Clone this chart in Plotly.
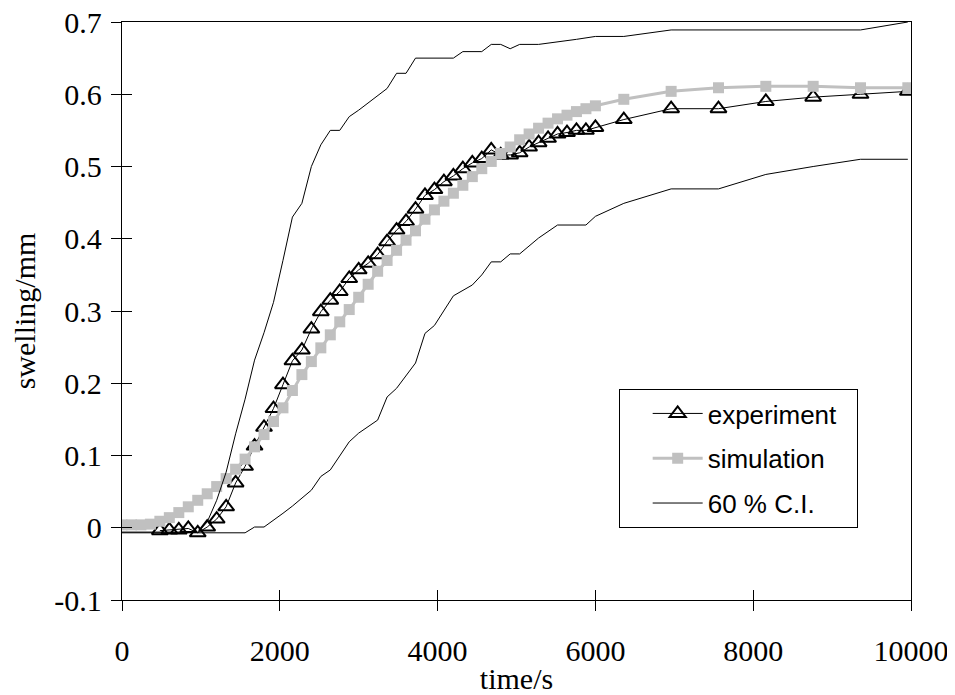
import plotly.graph_objects as go

# ---------------- data ----------------
exp_time = [480, 600, 720, 840, 960, 1080, 1200, 1320, 1440, 1560,
            1680, 1800, 1920, 2040, 2160, 2280, 2400, 2520, 2640, 2760,
            2880, 3000, 3120, 3240, 3360, 3480, 3600, 3720, 3840, 3960,
            4080, 4200, 4320, 4440, 4560, 4680, 4800, 4920, 5040, 5160,
            5280, 5400, 5520, 5640, 5760, 5880, 6000,
            6360, 6960, 7560, 8160, 8760, 9360, 9960]
exp_swell = [-0.004, -0.003, -0.003, -0.001, -0.007, 0.001, 0.012, 0.029, 0.062, 0.085,
             0.113, 0.139, 0.165, 0.198, 0.231, 0.246, 0.275, 0.299, 0.315, 0.327,
             0.345, 0.357, 0.366, 0.378, 0.396, 0.412, 0.424, 0.441, 0.460, 0.468,
             0.479, 0.487, 0.497, 0.505, 0.511, 0.523, 0.516, 0.516, 0.519, 0.527,
             0.533, 0.539, 0.545, 0.547, 0.550, 0.550, 0.554,
             0.565, 0.580, 0.580, 0.590, 0.596, 0.600, 0.604]

sim_time = [0, 120, 240, 360, 480, 600, 720, 840, 960, 1080,
            1200, 1320, 1440, 1560, 1680, 1800, 1920, 2040, 2160, 2280,
            2400, 2520, 2640, 2760, 2880, 3000, 3120, 3240, 3360, 3480,
            3600, 3720, 3840, 3960, 4080, 4200, 4320, 4440, 4560, 4680,
            4800, 4920, 5040, 5160, 5280, 5400, 5520, 5640, 5760, 5880, 6000,
            6360, 6960, 7560, 8160, 8760, 9360, 9960]
sim_swell = [0.004, 0.004, 0.004, 0.005, 0.009, 0.014, 0.021, 0.029, 0.038, 0.047,
             0.057, 0.068, 0.081, 0.095, 0.112, 0.129, 0.147, 0.166, 0.190, 0.212,
             0.230, 0.249, 0.267, 0.285, 0.302, 0.319, 0.337, 0.355, 0.370, 0.384,
             0.398, 0.411, 0.427, 0.440, 0.452, 0.463, 0.474, 0.486, 0.497, 0.507,
             0.518, 0.527, 0.537, 0.545, 0.553, 0.560, 0.566, 0.571, 0.576, 0.580, 0.584,
             0.593, 0.604, 0.609, 0.611, 0.611, 0.609, 0.609]

ci_up_time = [0, 960, 1080, 1200, 1320, 1440, 1560, 1680, 1800, 1920,
              2040, 2160, 2280, 2400, 2520, 2640, 2760, 2880, 3000, 3360,
              3480, 3600, 3720, 4200, 4320, 4560, 4680, 4800, 4920, 5040,
              5280, 5520, 5760, 6000, 6360, 6960, 8160, 9360, 9960]
ci_up_swell = [-0.006, -0.006, 0.008, 0.038, 0.077, 0.130, 0.178, 0.232, 0.270, 0.312,
               0.370, 0.430, 0.449, 0.500, 0.530, 0.550, 0.550, 0.569, 0.578, 0.608,
               0.629, 0.629, 0.650, 0.650, 0.659, 0.659, 0.669, 0.669, 0.663, 0.669,
               0.669, 0.672, 0.676, 0.680, 0.680, 0.689, 0.689, 0.689, 0.700]

ci_lo_time = [0, 1560, 1680, 1800, 2040, 2160, 2400, 2520, 2640, 2880,
              3000, 3240, 3360, 3480, 3720, 3840, 3960, 4200, 4440, 4560,
              4680, 4800, 4920, 5040, 5280, 5520, 5880, 6000, 6360, 6960,
              7560, 8160, 8760, 9360, 9960]
ci_lo_swell = [-0.007, -0.007, 0.001, 0.001, 0.020, 0.030, 0.052, 0.071, 0.080, 0.119,
               0.131, 0.149, 0.181, 0.193, 0.228, 0.269, 0.280, 0.321, 0.336, 0.350,
               0.368, 0.368, 0.379, 0.379, 0.401, 0.419, 0.419, 0.431, 0.449, 0.469,
               0.469, 0.489, 0.500, 0.510, 0.510]

x_ticks = [0, 2000, 4000, 6000, 8000, 10000]
x_ticktext = ["0", "2000", "4000", "6000", "8000", "10000"]
y_ticks = [-0.1, 0, 0.1, 0.2, 0.3, 0.4, 0.5, 0.6, 0.7]
y_ticktext = ["-0.1", "0", "0.1", "0.2", "0.3", "0.4", "0.5", "0.6", "0.7"]

SERIF = "Times New Roman, Liberation Serif, serif"
SANS = "Arial, Liberation Sans, sans-serif"
NB = "\u00a0"

fig = go.Figure()
fig.add_trace(go.Scatter(
    x=exp_time, y=exp_swell, name="experiment" + NB * 2, mode="lines+markers",
    legendgroup="e",
    line=dict(color="black", width=1),
    marker=dict(symbol="triangle-up-open", size=14, color="black",
                line=dict(color="black", width=2))))
fig.add_trace(go.Scatter(
    x=sim_time, y=sim_swell, name="simulation", mode="lines+markers",
    legendgroup="s",
    line=dict(color="#C0C0C0", width=3),
    marker=dict(symbol="square", size=11, color="#C0C0C0")))
fig.add_trace(go.Scatter(
    x=ci_up_time, y=ci_up_swell, name="60 % C.I.", mode="lines",
    legendgroup="ci", line=dict(color="black", width=1)))
fig.add_trace(go.Scatter(
    x=ci_lo_time, y=ci_lo_swell, name="60 % C.I.", mode="lines",
    legendgroup="ci", showlegend=False, line=dict(color="black", width=1)))
# empty trace to activate the overlay axes that carry the inner tick halves
fig.add_trace(go.Scatter(x=[], y=[], xaxis="x2", yaxis="y2",
                         showlegend=False, hoverinfo="skip"))

axis_common = dict(showgrid=False, zeroline=False, automargin=False)
# the page body adds an 8 px offset, so the figure is 8 px smaller
fig.update_layout(
    width=947, height=687,
    margin=dict(l=114, r=43.5, t=14, b=95),
    plot_bgcolor="white", paper_bgcolor="white",
    xaxis=dict(range=[0, 10000], tickvals=x_ticks, ticktext=x_ticktext,
               showline=True, linecolor="black", linewidth=1.3, mirror=True,
               ticks="outside", ticklen=10, tickwidth=1, tickcolor="black",
               ticklabelstandoff=14, ticklabeloverflow="allow",
               tickfont=dict(family=SERIF, size=30, color="black"),
               title=dict(text="time/s", standoff=4,
                          font=dict(family=SERIF, size=30, color="black")),
               **axis_common),
    yaxis=dict(range=[-0.1, 0.7], tickvals=y_ticks, ticktext=y_ticktext,
               showline=True, linecolor="black", linewidth=1.3, mirror=True,
               ticks="outside", ticklen=10, tickwidth=1, tickcolor="black",
               ticklabelstandoff=3, ticklabeloverflow="allow",
               tickfont=dict(family=SERIF, size=30, color="black"),
               title=dict(text="swelling/mm", standoff=14,
                          font=dict(family=SERIF, size=30, color="black")),
               **axis_common),
    xaxis2=dict(range=[0, 10000], overlaying="x", anchor="y2", tickvals=x_ticks,
                ticks="inside", ticklen=10, tickwidth=1, tickcolor="black",
                showticklabels=False, showline=False, **axis_common),
    yaxis2=dict(range=[-0.1, 0.7], overlaying="y", anchor="x2", tickvals=y_ticks,
                ticks="inside", ticklen=10, tickwidth=1, tickcolor="black",
                showticklabels=False, showline=False, **axis_common),
    legend=dict(x=0.6295, y=0.365, xanchor="left", yanchor="top",
                bordercolor="black", borderwidth=1, bgcolor="white",
                font=dict(family=SANS, size=26, color="black"),
                itemwidth=50, tracegroupgap=8, indentation=28),
)

fig.write_html("out.html")
